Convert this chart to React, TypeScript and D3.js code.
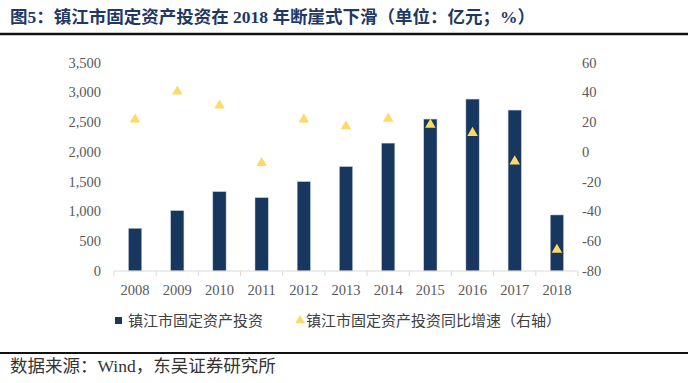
import React from "react";
import * as d3 from "d3";

const years = ["2008","2009","2010","2011","2012","2013","2014","2015","2016","2017","2018"];
const investment = [718, 1015, 1334, 1233, 1503, 1755, 2149, 2553, 2889, 2704, 942];
const growth = [21.8, 40.6, 31.2, -7.4, 21.8, 17.3, 22.4, 18.4, 12.8, -6.3, -65.7];
const leftTicks = [0, 500, 1000, 1500, 2000, 2500, 3000, 3500];
const rightTicks = [-80, -60, -40, -20, 0, 20, 40, 60];

const title = "图5：镇江市固定资产投资在 2018 年断崖式下滑（单位：亿元；%）";
const legend1 = "镇江市固定资产投资";
const legend2 = "镇江市固定资产投资同比增速（右轴）";
const source = "数据来源：Wind，东吴证券研究所";

const W = 700, H = 383;
const BAR = "#17375E";
const TRI = "#FFD966";
const FONT = "'Liberation Serif', 'Times New Roman', 'Noto Sans CJK SC', serif";

export default function App() {
  const x = d3.scaleBand<string>().domain(years).range([114, 578]).padding(0);
  const yL = d3.scaleLinear().domain([0, 3500]).range([271, 62.7]);
  const yR = d3.scaleLinear().domain([-80, 60]).range([271, 62.7]);
  const bw = x.bandwidth() * 0.315;
  const tri = d3.symbol().type(d3.symbolTriangle).size(48)() as string;
  const triSmall = d3.symbol().type(d3.symbolTriangle).size(40)() as string;
  const fmt = d3.format(",");
  const boundaries = years.map((y) => x(y) as number).concat([x.range()[1]]);

  return (
    <div style={{ position: "absolute", left: 0, top: 0 }}>
      <svg width={W} height={H} style={{ display: "block", background: "#fff" }}>
        <text x={10} y={17} dominantBaseline="central" fontFamily={FONT} fontWeight="bold"
          fontSize={17.5} fill="#1F3864">{title}</text>
        <line x1={0} x2={688} y1={34} y2={34} stroke="#111" strokeWidth={2.5} />

        {leftTicks.map((t) => (
          <text key={"l" + t} x={101} y={yL(t)} textAnchor="end" dominantBaseline="central"
            fontFamily={FONT} fontSize={14.5} fill="#595959">{fmt(t)}</text>
        ))}
        {rightTicks.map((t) => (
          <text key={"r" + t} x={582} y={yR(t)} textAnchor="start" dominantBaseline="central"
            fontFamily={FONT} fontSize={14.5} fill="#595959">{t}</text>
        ))}

        {years.map((yr, i) => (
          <rect key={"b" + yr} x={(x(yr) as number) + x.bandwidth() / 2 - bw / 2} y={yL(investment[i])}
            width={bw} height={yL(0) - yL(investment[i])} fill={BAR} stroke="#c9d3e0" strokeWidth={0.5} />
        ))}

        <line x1={x.range()[0]} x2={x.range()[1]} y1={271} y2={271} stroke="#d9d9d9" strokeWidth={1} />
        {boundaries.map((b, i) => (
          <line key={"t" + i} x1={b} x2={b} y1={271} y2={276} stroke="#d9d9d9" strokeWidth={1} />
        ))}

        {years.map((yr, i) => (
          <path key={"g" + yr} d={tri}
            transform={`translate(${(x(yr) as number) + x.bandwidth() / 2},${yR(growth[i])})`} fill={TRI} />
        ))}

        {years.map((yr) => (
          <text key={"x" + yr} x={(x(yr) as number) + x.bandwidth() / 2} y={290} textAnchor="middle"
            dominantBaseline="central" fontFamily={FONT} fontSize={14.5} fill="#595959">{yr}</text>
        ))}

        <rect x={115} y={317} width={7} height={7} fill={BAR} />
        <text x={128} y={321} dominantBaseline="central" fontFamily={FONT} fontSize={15} fill="#404040">{legend1}</text>
        <path d={triSmall} transform="translate(300,320.5)" fill={TRI} />
        <text x={306} y={321} dominantBaseline="central" fontFamily={FONT} fontSize={15} fill="#404040">{legend2}</text>

        <line x1={0} x2={688} y1={353} y2={353} stroke="#111" strokeWidth={2} />
        <text x={10} y={366} dominantBaseline="central" fontFamily={FONT} fontSize={17.5} fill="#333">{source}</text>
      </svg>
    </div>
  );
}
